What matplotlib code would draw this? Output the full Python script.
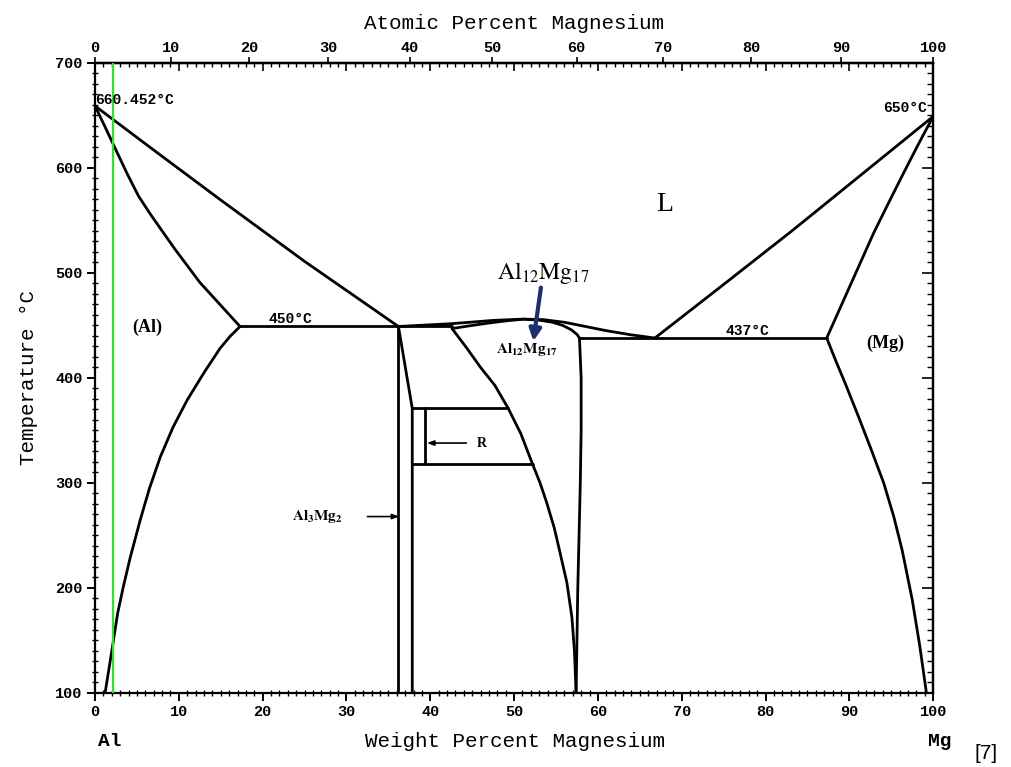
"""Al-Mg phase diagram (weight % Mg vs temperature)."""

import matplotlib as mpl

mpl.use("Agg")
import matplotlib.pyplot as plt
import numpy as np

# ---- phase boundaries (wt% Mg, deg C) ----
al_liquidus_x = [0.0, 7.0, 14.9, 25.0, 36.2]
al_liquidus_t = [659.0, 617.0, 570.0, 511.0, 449.0]

al_solidus_x = [0.0, 1.2, 2.5, 3.8, 5.2, 6.6, 8.0, 9.5, 11.0, 12.5, 14.1, 15.7, 17.3]
al_solidus_t = [659.0, 639.0, 617.0, 595.0, 573.0, 556.0, 540.0, 523.0, 507.0, 491.0, 477.0, 463.0, 449.0]

al_solvus_x = [17.3, 16.1, 14.9, 13.0, 11.0, 9.3, 7.8, 6.5, 5.4, 4.2, 3.4, 2.7, 2.0, 1.2]
al_solvus_t = [449.0, 439.5, 428.0, 405.0, 379.0, 353.0, 325.0, 295.0, 265.0, 229.0, 202.0, 176.0, 140.0, 100.0]

eutectic_450_x = [17.3, 42.6]
eutectic_450_t = [449.0, 449.0]

beta_left_x = [36.1, 36.1]
beta_left_t = [449.0, 100.0]
beta_right_x = [36.2, 37.85, 37.85]
beta_right_t = [449.0, 371.0, 100.0]

r_upper_x = [37.85, 49.3]
r_upper_t = [371.0, 371.0]
r_lower_x = [37.85, 52.2]
r_lower_t = [318.0, 318.0]
r_phase_x = [39.4, 39.4]
r_phase_t = [318.0, 371.0]

gamma_left_x = [42.6, 44.3, 46.0, 47.7, 49.3, 50.8, 52.2, 53.1, 53.9, 54.8, 55.5, 56.3, 56.9, 57.2, 57.4]
gamma_left_t = [447.0, 429.0, 410.0, 393.0, 371.0, 347.0, 318.0, 300.0, 281.0, 257.0, 233.0, 205.0, 172.0, 140.0, 100.0]

gamma_right_x = [57.8, 58.0, 58.0, 57.9, 57.75, 57.6, 57.4]
gamma_right_t = [438.0, 400.0, 350.0, 300.0, 250.0, 200.0, 100.0]

gamma_liquidus_x = [36.2, 39.0, 42.4, 45.0, 47.5, 51.1, 53.5, 56.0, 58.2, 61.0, 64.0, 66.8]
gamma_liquidus_t = [449.0, 450.2, 451.6, 453.2, 454.8, 456.0, 455.5, 453.0, 449.5, 445.0, 441.0, 438.0]

gamma_solidus_x = [42.6, 44.0, 45.5, 47.0, 49.0, 51.1, 53.0, 54.6, 55.8, 56.8, 57.5, 57.8]
gamma_solidus_t = [447.0, 448.8, 450.6, 452.3, 454.3, 456.0, 455.0, 453.0, 450.0, 446.0, 441.5, 438.0]

eutectic_437_x = [57.8, 87.3]
eutectic_437_t = [438.0, 438.0]

mg_liquidus_x = [66.8, 75.0, 83.3, 91.5, 100.0]
mg_liquidus_t = [438.0, 489.0, 541.0, 594.0, 649.0]

mg_solidus_x = [100.0, 98.2, 96.4, 94.7, 92.9, 91.5, 90.1, 88.7, 87.3]
mg_solidus_t = [649.0, 622.0, 594.0, 567.0, 538.0, 513.0, 488.0, 463.0, 438.0]

mg_solvus_x = [87.3, 88.4, 89.5, 91.1, 92.6, 94.1, 95.3, 96.3, 97.5, 98.4, 99.2]
mg_solvus_t = [438.0, 416.0, 395.0, 363.0, 332.0, 300.0, 268.0, 236.0, 189.0, 145.0, 100.0]

green_x = [2.2, 2.2]
green_t = [100.0, 700.0]

BOUNDARIES = [
    (al_liquidus_x, al_liquidus_t),
    (al_solidus_x, al_solidus_t),
    (al_solvus_x, al_solvus_t),
    (eutectic_450_x, eutectic_450_t),
    (beta_left_x, beta_left_t),
    (beta_right_x, beta_right_t),
    (r_upper_x, r_upper_t),
    (r_lower_x, r_lower_t),
    (r_phase_x, r_phase_t),
    (gamma_left_x, gamma_left_t),
    (gamma_right_x, gamma_right_t),
    (gamma_liquidus_x, gamma_liquidus_t),
    (gamma_solidus_x, gamma_solidus_t),
    (eutectic_437_x, eutectic_437_t),
    (mg_liquidus_x, mg_liquidus_t),
    (mg_solidus_x, mg_solidus_t),
    (mg_solvus_x, mg_solvus_t),
]

M_AL, M_MG = 26.982, 24.305


def wt_to_at(w):
    w = np.clip(np.asarray(w, dtype=float), 0.0, 100.0)
    a = w / M_MG
    b = (100.0 - w) / M_AL
    return 100.0 * a / (a + b)


def at_to_wt(at):
    at = np.clip(np.asarray(at, dtype=float), 0.0, 100.0)
    a = at * M_MG
    b = (100.0 - at) * M_AL
    return 100.0 * a / (a + b)


def identity(v):
    return v


MONO = ["Liberation Mono", "DejaVu Sans Mono"]
SERIF = ["Liberation Serif", "DejaVu Serif"]

mpl.rcParams.update(
    {
        "font.family": MONO,
        "mathtext.fontset": "stix",
        "axes.linewidth": 1.6,
    }
)

fig = plt.figure(figsize=(10.11, 7.67), dpi=100)
ax = fig.add_axes([0.094, 0.0965, 0.829, 0.8215])

for xs, ts in BOUNDARIES:
    ax.plot(xs, ts, color="black", lw=2.0, solid_capstyle="round", solid_joinstyle="round")

ax.plot(green_x, green_t, color="#33dd33", lw=1.6, zorder=3)

ax.set_xlim(0, 100)
ax.set_ylim(100, 700)

# bottom / left ticks
ax.set_xticks(np.arange(0, 101, 10))
ax.set_xticks(np.arange(0, 101, 1), minor=True)
ax.set_yticks(np.arange(100, 701, 100))
ax.set_yticks(np.arange(100, 701, 10), minor=True)
ax.tick_params(which="major", direction="out", length=6, width=1.4, labelsize=11, pad=3)
ax.tick_params(which="minor", direction="inout", length=4, width=1.0)
for lab in ax.get_xticklabels() + ax.get_yticklabels():
    lab.set_fontweight("bold")

# mirrored inward ticks on top (wt%) and right (temperature)
top_wt = ax.secondary_xaxis("top", functions=(identity, identity))
top_wt.set_xticks(np.arange(0, 101, 10))
top_wt.set_xticks(np.arange(0, 101, 1), minor=True)
top_wt.tick_params(which="major", direction="in", length=6, width=1.2, labeltop=False)
top_wt.tick_params(which="minor", direction="in", length=3, width=1.0)

right_t = ax.secondary_yaxis("right", functions=(identity, identity))
right_t.set_yticks(np.arange(100, 701, 100))
right_t.set_yticks(np.arange(100, 701, 10), minor=True)
right_t.tick_params(which="major", direction="in", length=8, width=1.2, labelright=False)
right_t.tick_params(which="minor", direction="in", length=4, width=1.0)

# atomic percent scale on top
top_at = ax.secondary_xaxis("top", functions=(wt_to_at, at_to_wt))
top_at.set_xticks(np.arange(0, 101, 10))
top_at.tick_params(which="major", direction="out", length=4, width=1.2, labelsize=11, pad=2)
top_at.tick_params(which="minor", length=0)
for lab in top_at.get_xticklabels():
    lab.set_fontweight("bold")
top_at.set_xlabel("Atomic Percent Magnesium", fontsize=15, labelpad=8)

ax.set_ylabel("Temperature °C", fontsize=15, labelpad=12)

fig.text(0.509, 0.033, "Weight Percent Magnesium", fontsize=15, ha="center", va="center")
fig.text(0.109, 0.033, "Al", fontsize=14, ha="center", va="center", fontweight="bold")
fig.text(0.930, 0.033, "Mg", fontsize=14, ha="center", va="center", fontweight="bold")
fig.text(0.975, 0.018, "[7]", fontsize=15, ha="center", va="center",
         family=["Liberation Sans", "DejaVu Sans"])

# in-plot labels
ax.text(0.0, 665, "660.452°C", fontsize=10.5, fontweight="bold", ha="left", va="center")
ax.text(99.3, 657, "650°C", fontsize=10.5, fontweight="bold", ha="right", va="center")
ax.text(23.3, 456, "450°C", fontsize=10.5, fontweight="bold", ha="center", va="center")
ax.text(77.8, 445, "437°C", fontsize=10.5, fontweight="bold", ha="center", va="center")

ax.text(68.0, 565, "L", fontsize=20, family=SERIF, ha="center", va="center")
ax.text(6.2, 448, "(Al)", fontsize=13, family=SERIF, fontweight="bold", ha="center", va="center")
ax.text(94.3, 433, "(Mg)", fontsize=13, family=SERIF, fontweight="bold", ha="center", va="center")
ax.text(53.5, 500, r"$\mathrm{Al_{12}Mg_{17}}$", fontsize=17, ha="center", va="center")
ax.text(51.5, 427, r"$\mathbf{Al_{12}Mg_{17}}$", fontsize=11, ha="center", va="center")
ax.text(46.1, 338, "R", fontsize=10, family=SERIF, fontweight="bold", ha="center", va="center")
ax.text(26.5, 268, r"$\mathbf{Al_{3}Mg_{2}}$", fontsize=11, ha="center", va="center")

ax.annotate("", xy=(52.3, 435), xytext=(53.2, 486),
            arrowprops=dict(arrowstyle="-|>,head_length=0.7,head_width=0.35",
                            color="#1c2f6e", lw=3.0, shrinkA=0, shrinkB=0))
ax.annotate("", xy=(39.6, 338), xytext=(44.3, 338),
            arrowprops=dict(arrowstyle="-|>,head_length=0.4,head_width=0.15",
                            color="black", lw=1.2, shrinkA=0, shrinkB=0))
ax.annotate("", xy=(36.3, 268), xytext=(32.5, 268),
            arrowprops=dict(arrowstyle="-|>,head_length=0.4,head_width=0.15",
                            color="black", lw=1.2, shrinkA=0, shrinkB=0))

fig.savefig("out.png", dpi=100)
